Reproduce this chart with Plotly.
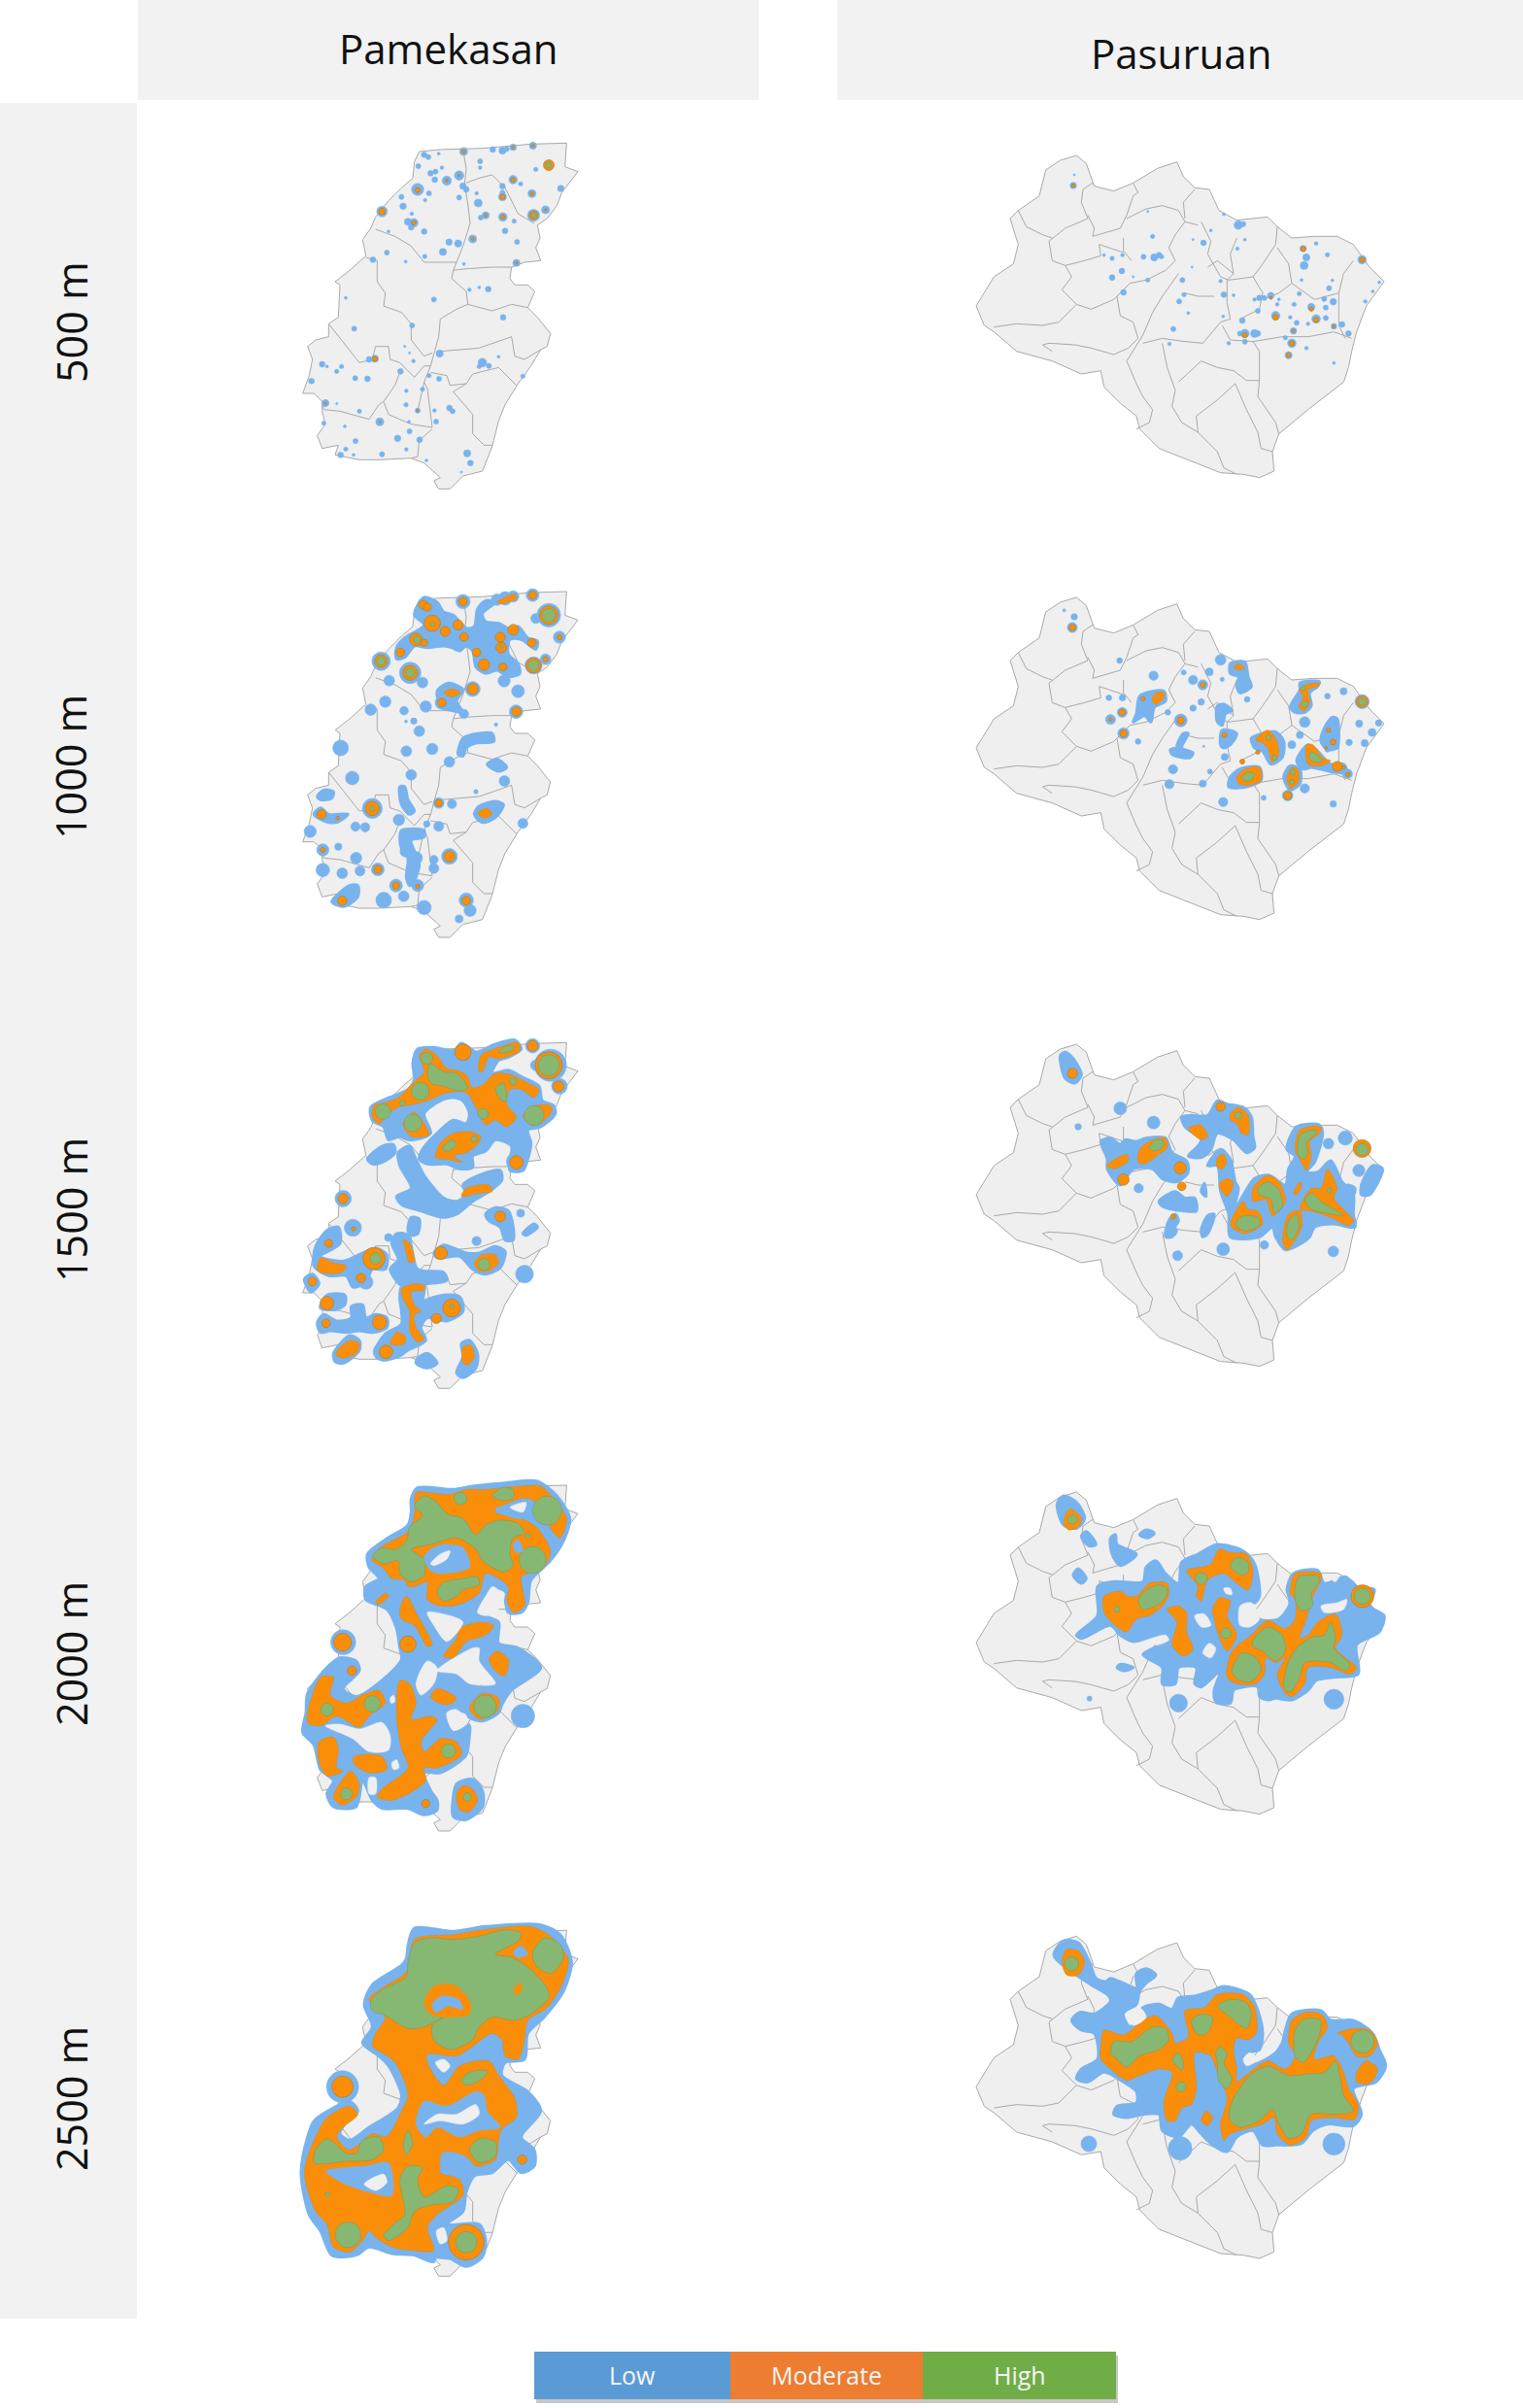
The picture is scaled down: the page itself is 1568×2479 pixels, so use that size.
import plotly.graph_objects as go

W, H = 1568, 2479
DISTRICTS = ["Pamekasan", "Pasuruan"]
BUFFERS = ["500 m", "1000 m", "1500 m", "2000 m", "2500 m"]
LEGEND_LABELS = ["Low", "Moderate", "High"]
LEGEND_COLORS = ["#5B9BD5", "#ED7D31", "#70AD47"]
C_LOW, C_MOD, C_HIGH, C_LAND, C_EDGE = "#78B3EE", "#FB8E08", "#86B873", "#EFEFEF", "#A9A9A9"

PAM_OUT = [(455,78),(520,72),(585,70),(650,68),(720,62),(800,55),(910,52),(908,100),(905,125),(945,140),(925,165),(895,205),(880,245),(850,285),(820,305),(828,345),(815,375),(830,415),(780,420),(740,435),(735,470),(750,490),(790,490),(812,510),(790,560),(820,590),(860,640),(850,680),(830,690),(800,740),(760,795),(720,860),(700,910),(680,990),(650,1065),(590,1080),(550,1120),(515,1120),(500,1095),(520,1085),(470,1040),(430,1025),(330,1030),(270,1030),(195,1015),(205,985),(155,995),(140,955),(165,920),(155,880),(155,850),(130,825),(95,825),(115,770),(125,720),(110,680),(135,660),(175,650),(175,610),(205,590),(210,490),(195,480),(240,445),(290,400),(280,350),(305,315),(320,280),(360,230),(400,190),(435,160),(440,110)]
PAM_LINES = [
 [(590,72),(600,130),(595,180),(605,240),(612,300),(590,370),(570,420),(560,445),(600,440),(680,435),(740,435)],
 [(320,318),(380,340),(430,370),(470,420),(520,420),(570,420)],
 [(290,405),(325,415),(325,480),(350,515),(345,555),(400,575),(430,610),(430,660),(470,710),(495,700)],
 [(560,445),(555,470),(600,510),(605,550),(570,565),(520,595),(515,650),(490,740),(470,790),(450,880)],
 [(605,550),(680,570),(740,550),(790,560)],
 [(520,695),(580,690),(640,685),(740,650),(750,710),(780,720),(830,690)],
 [(175,610),(230,680),(270,730),(310,720),(320,680),(360,680),(365,720),(395,730),(440,775),(470,740),(490,740)],
 [(490,760),(540,770),(550,800),(600,795),(620,765),(700,745),(755,800)],
 [(600,795),(560,820),(620,890),(620,950),(655,985),(680,985)],
 [(395,760),(380,800),(345,850),(360,890),(430,920),(495,930),(480,810),(470,790)],
 [(155,850),(160,875),(210,880),(300,905),(330,860),(345,850)],
 [(495,935),(455,970),(450,1020),(430,1025)],
 [(680,150),(640,160),(600,175)],[(680,150),(720,190),(745,240),(760,270),(810,300)],
]
PAS_OUT = [(75,510),(130,420),(190,380),(205,320),(180,240),(205,215),(270,170),(290,90),(335,60),(385,45),(415,70),(430,110),(440,140),(500,155),(560,130),(635,85),(695,65),(715,110),(750,145),(795,150),(825,215),(880,245),(975,235),(1005,265),(1050,300),(1120,295),(1190,295),(1240,320),(1290,390),(1335,435),(1310,470),(1280,510),(1250,590),(1235,650),(1225,700),(1210,745),(1100,830),(1010,905),(990,960),(995,1020),(950,1040),(900,1030),(830,1025),(740,990),(640,950),(580,890),(570,850),(520,810),(470,760),(460,710),(400,720),(310,680),(200,650),(130,590),(100,570)]
PAS_LINES = [
 [(130,575),(200,565),(280,570),(330,560),(385,505)],
 [(385,505),(340,460),(370,420),(350,385),(310,370),(300,310),(350,270),(385,255),(420,240)],
 [(205,215),(230,265),(280,290),(310,300)],
 [(420,240),(400,190),(405,150),(435,130)],
 [(420,230),(440,270),(435,295),(470,285),(520,270),(540,230),(560,170),(575,160),(560,130)],
 [(530,300),(530,340),(555,370)],[(530,345),(455,320),(460,355),(410,370),(350,385)],
 [(540,240),(600,210),(650,200),(700,215),(720,250),(760,260)],[(720,240),(715,190),(750,150)],
 [(720,250),(690,290),(670,330),(690,370),(660,400),(600,430),(550,440),(500,490),(430,520),(385,505)],
 [(550,440),(510,480),(520,540),(560,560),(575,610),(545,640),(500,660),(430,640),(380,630),(300,625),(280,630),(310,650)],
 [(700,410),(650,480),(620,530),(590,600),(540,680),(570,750),(590,790),(620,830),(610,870),(570,890)],
 [(590,625),(650,610),(720,620),(775,625),(830,560),(860,550),(850,500),(850,430),(870,410),(820,370),(790,390)],
 [(650,625),(665,700),(690,770),(680,820),(710,870),(760,900),(820,960),(840,1010),(880,1030)],
 [(700,745),(770,680),(820,700),(870,710),(910,740),(950,740),(950,650),(930,620),(860,615),(835,570)],
 [(950,740),(945,790),(1000,870),(1010,905)],
 [(755,850),(820,800),(875,750),(910,830),(945,900),(955,950),(990,960)],
 [(760,900),(755,850)],
 [(930,620),(1020,605),(1100,605),(1180,590),(1235,610)],
 [(810,480),(760,480),(720,470)],
 [(855,430),(930,420),(960,380),(1000,320),(1005,265)],[(930,420),(960,470),(950,520),(890,550)],
 [(1005,330),(1040,380),(1050,440),(1120,490),(1195,470),(1210,410),(1240,370)],[(1050,440),(1010,470),(960,490)],
 [(1195,470),(1195,570),(1215,610)],
 [(770,250),(800,310),(790,350),(830,420),(855,430)],[(880,300),(860,350),(870,410)],
]

# ---------- Pamekasan 500 m
PAM500_LOW_DOTS = [(470,88,16),(483,95,14),(515,85,8),(592,78,22),(643,108,14),(643,128,10),(682,72,16),(712,75,20),(725,70,14),(745,65,18),(806,60,20),(452,123,14),(525,128,10),(490,145,16),(505,140,14),(503,165,16),(540,168,26),(578,152,26),(590,185,18),(600,195,16),(712,185,16),(712,205,14),(815,133,12),(892,192,18),(768,178,12),(745,165,24),(450,195,34),(485,207,14),(400,218,14),(473,228,10),(578,220,14),(632,207,10),(637,237,22),(712,218,22),(803,208,22),(405,247,18),(432,270,10),(645,282,14),(660,275,20),(713,280,24),(748,293,12),(808,275,34),(845,258,22),(340,263,30),(420,295,20),(438,298,24),(430,312,16),(470,325,16),(720,323,16),(360,325,8),(547,358,18),(575,362,20),(620,348,22),(757,357,14),(355,390,14),(528,388,20),(472,402,12),(413,418,8),(312,412,16),(593,425,8),(755,422,20),(610,505,10),(640,498,8),(668,503,16),(500,535,14),(228,530,8),(714,590,16),(433,615,14),(254,625,14),(410,680,6),(425,700,6),(518,702,20),(300,720,16),(318,718,20),(437,725,10),(650,730,24),(670,740,14),(640,742,12),(700,712,8),(155,735,16),(170,742,8),(215,742,12),(200,757,12),(397,757,16),(122,787,16),(257,778,14),(295,780,16),(485,770,12),(516,780,14),(775,772,12),(415,817,10),(465,812,12),(165,855,20),(200,857,6),(414,860,12),(270,880,12),(450,878,14),(502,878,10),(548,870,16),(558,880,14),(333,913,22),(160,917,12),(507,912,14),(225,927,8),(423,913,8),(425,942,14),(388,964,18),(456,968,16),(258,972,14),(228,997,12),(415,998,10),(212,1015,16),(252,1015,8),(340,1013,14),(603,1010,20),(613,1040,16),(477,1032,8),(585,1068,6)]
PAM500_MOD_DOTS = [(592,78,10),(745,65,8),(806,60,8),(745,165,12),(712,218,14),(803,208,10),(713,280,12),(450,197,14),(340,263,18),(438,298,12),(318,718,14),(660,275,8),(620,348,8),(855,120,30),(808,275,24),(540,168,8),(578,152,6),(755,422,6),(845,258,6),(165,855,6),(333,913,6),(450,878,6)]
PAM500_HIGH_DOTS = [(855,120,16),(808,275,14)]

# ---------- Pamekasan 1000 m
PAM1000_LOW = [
 [(445,110),(470,75),(510,90),(530,120),(560,130),(600,170),(625,165),(635,110),(660,85),(690,90),(650,125),(660,150),(700,155),(730,170),(760,165),(790,200),(820,210),(815,235),(770,205),(735,205),(730,250),(760,280),(765,310),(730,320),(695,300),(660,310),(630,290),(620,240),(600,225),(580,240),(555,230),(530,225),(480,230),(440,225),(410,260),(385,265),(385,230),(410,200),(445,180),(470,160),(440,130)],
 [(575,560),(590,510),(640,495),(680,495),(685,520),(630,525),(600,540),(590,565)],
 [(130,745),(150,725),(175,745),(235,745),(200,770),(160,765)],
 [(140,690),(160,670),(190,675),(185,695),(150,700)],
 [(395,660),(410,660),(420,700),(440,735),(425,745),(400,715)],
 [(665,590),(695,575),(725,600),(700,612)],
 [(625,745),(640,720),(690,705),(715,715),(690,755),(650,770)],
 [(510,365),(545,340),(590,360),(570,395),(590,430),(560,425),(525,415)],
 [(395,820),(400,795),(470,795),(470,815),(430,825),(445,870),(455,900),(440,950),(425,965),(415,940),(420,880),(400,850)],
 [(185,1015),(240,965),(265,965),(265,1000),(220,1030)],
]
PAM1000_LOW_DOTS = [(590,88,40),(720,78,38),(745,72,32),(695,82,32),(805,68,36),(855,130,66),(815,140,28),(888,198,34),(337,272,52),(397,248,34),(427,308,60),(465,338,30),(362,332,30),(350,397,32),(305,422,32),(475,412,32),(408,425,24),(438,457,18),(455,488,30),(414,458,8),(692,468,10),(212,540,44),(415,550,30),(495,543,32),(548,583,30),(248,633,38),(430,623,30),(718,642,30),(630,675,12),(392,762,32),(515,710,30),(556,713,26),(478,775,18),(515,782,28),(775,773,28),(258,783,26),(288,785,26),(118,798,34),(260,880,32),(157,917,38),(217,927,30),(272,920,28),(327,915,36),(383,965,36),(407,998,30),(450,965,34),(548,875,44),(600,1010,40),(612,1042,34),(470,1033,40),(578,1068,22),(345,1010,44),(412,860,30),(205,845,20),(157,855,34),(754,428,38),(808,285,48),(845,266,30),(717,333,34),(760,365,36),(745,293,36),(712,290,34),(655,285,42),(620,358,42),(525,400,38),(593,435,26),(500,885,24),(500,912,28),(445,880,36),(310,727,56)]
PAM1000_MOD = [[(530,368),(560,358),(582,370),(555,382)],[(695,90),(750,65),(755,78),(705,95)],[(635,740),(665,727),(680,745),(655,757)]]
PAM1000_MOD_DOTS = [(468,98,26),(480,105,22),(590,88,24),(495,155,46),(535,180,28),(575,160,28),(593,197,24),(445,205,36),(470,215,20),(397,245,24),(337,272,36),(427,308,42),(632,245,24),(655,283,32),(705,198,28),(708,230,30),(745,175,30),(803,215,24),(713,290,22),(805,68,22),(855,130,52),(888,198,14),(808,285,42),(845,266,14),(620,358,30),(525,400,24),(755,428,26),(515,710,20),(157,855,14),(153,745,26),(217,1012,26),(327,915,22),(383,965,20),(450,968,12),(548,875,30),(600,1012,24),(203,757,10),(310,727,40)]
PAM1000_HIGH_DOTS = [(495,158,12),(448,205,20),(337,272,24),(427,308,26),(855,130,38),(808,285,30),(708,225,10),(310,727,14)]

# ---------- Pamekasan 1500 m
PAM1500_LOW = [
 [(435,135),(450,90),(500,85),(560,95),(585,72),(615,90),(630,100),(690,75),(750,62),(770,90),(730,115),(700,125),(680,165),(730,155),(770,175),(825,205),(835,250),(870,265),(875,290),(830,330),(790,340),(800,380),(790,430),(775,465),(735,465),(735,430),(740,390),(690,370),(660,405),(620,420),(620,455),(580,460),(540,445),(480,445),(455,430),(465,400),(510,350),(560,310),(600,320),(610,290),(590,250),(560,240),(530,245),(470,290),(490,350),(440,370),(420,370),(395,360),(360,370),(345,330),(310,310),(305,270),(350,245),(420,215),(440,185)],
 [(395,450),(390,410),(425,390),(440,420),(470,480),(530,550),(570,560),(600,540),(590,510),(640,480),(705,465),(710,495),(670,530),(620,560),(570,600),(530,610),(460,590),(400,570),(385,545),(430,520)],
 [(295,430),(340,390),(375,385),(380,410),(340,440),(310,445)],
 [(420,650),(430,610),(455,615),(450,660),(430,665)],
 [(660,600),(690,580),(730,590),(745,640),(745,680),(720,680),(705,640),(670,620)],
 [(775,660),(810,630),(820,640),(785,665)],
 [(500,720),(530,695),(600,720),(640,720),(690,700),(720,715),(705,765),(660,785),(620,770),(580,730),(510,735)],
 [(370,690),(385,660),(420,665),(450,770),(530,780),(540,805),(470,815),(420,815),(400,820),(365,770),(390,740)],
 [(395,860),(400,825),(470,815),(470,840),(460,900),(470,870),(530,850),(580,855),(590,900),(540,930),(480,920),(460,950),(475,990),(420,1020),(390,1040),(340,1050),(320,1020),(350,970),(400,940),(400,900)],
 [(135,700),(170,650),(205,640),(210,690),(150,730),(220,745),(290,715),(320,705),(355,725),(350,770),(310,770),(290,810),(250,825),(230,790),(175,790),(130,760)],
 [(100,800),(125,785),(145,815),(120,840)],
 [(150,880),(170,850),(225,850),(225,880),(195,895),(150,890)],
 [(140,935),(160,910),(200,930),(245,920),(245,885),(280,880),(290,920),(320,910),(355,920),(355,950),(310,965),(270,960),(230,965),(180,960),(150,965)],
 [(190,1030),(240,975),(270,990),(270,1020),(220,1060),(195,1055)],
 [(450,1045),(480,1030),(510,1060),(480,1075),(445,1060)],
 [(570,1090),(590,1040),(585,1000),(610,990),(635,1030),(630,1075),(590,1105)],
]
PAM1500_LOW_DOTS = [(805,80,40),(860,140,90),(815,140,30),(888,205,44),(755,438,56),(220,552,46),(250,642,48),(780,785,50),(768,597,22),(632,683,26),(360,672,22),(340,1025,50),(290,810,40)]
PAM1500_MOD = [
 [(455,110),(475,90),(510,110),(540,150),(570,155),(600,170),(620,210),(650,200),(690,165),(740,170),(790,195),(825,215),(810,240),(770,215),(735,215),(725,260),(755,300),(725,330),(690,310),(660,325),(630,270),(600,225),(540,225),(480,250),(440,260),(415,265),(390,270),(365,285),(330,320),(310,300),(315,265),(350,255),(390,240),(440,190),(470,160)],
 [(640,160),(645,110),(700,85),(760,70),(765,95),(700,120),(670,115),(650,160)],
 [(405,320),(440,285),(470,320),(485,355),(430,360)],
 [(505,425),(520,380),(560,350),(610,345),(645,360),(635,385),(600,410),(560,420),(590,440),(540,430)],
 [(775,295),(810,265),(860,265),(865,280),(830,320),(800,325)],
 [(410,700),(405,680),(425,690),(440,745),(425,750)],
 [(400,830),(440,815),(470,820),(470,835),(430,840),(440,880),(460,900),(440,910),(445,950),(470,985),(450,995),(425,960),(425,900),(405,860)],
 [(365,1000),(385,965),(410,975),(410,1000),(380,1005)],
 [(140,770),(150,735),(190,750),(230,760),(215,780),(150,780)],
 [(590,1060),(590,1010),(615,1005),(625,1040),(605,1065)],
 [(625,750),(650,725),(690,725),(700,750),(670,775),(640,775)],
 [(585,545),(600,520),(670,510),(680,530),(640,535)],
 [(197,1030),(240,990),(270,1000),(260,1030),(215,1045)],
]
PAM1500_MOD_DOTS = [(590,100,46),(805,80,30),(855,140,76),(885,205,30),(755,440,38),(220,552,28),(252,645,12),(175,690,22),(315,737,62),(275,797,26),(125,808,24),(170,875,38),(167,937,24),(332,934,40),(508,922,28),(555,890,50),(352,1025,38),(705,607,30),(522,720,36)]
PAM1500_HIGH = [
 [(480,165),(490,135),(530,160),(570,165),(605,210),(580,220),(530,205),(490,195)],
 [(690,210),(715,195),(725,250),(710,250)],
 [(525,400),(555,370),(570,385),(545,405)],
 [(700,100),(725,80),(750,85),(730,100)],
]
PAM1500_HIGH_DOTS = [(478,118,34),(458,220,50),(343,283,44),(435,318,50),(403,257,16),(855,140,60),(810,295,56),(652,290,30),(555,885,12),(320,737,32),(655,755,34),(625,368,18),(745,190,20)]

# ---------- Pamekasan 2000 m
PAM2000_LOW = [
 [(430,130),(450,95),(560,100),(620,90),(720,80),(820,75),(880,120),(920,190),(900,260),(860,320),(800,380),(790,450),(770,480),(730,480),(715,420),(680,395),(640,480),(700,510),(700,575),(760,590),(830,650),(740,720),(710,765),(700,790),(650,815),(610,805),(600,790),(550,780),(610,830),(610,860),(600,920),(580,940),(520,975),(470,975),(490,1030),(510,1060),(510,1090),(470,1105),(420,1085),(340,1085),(310,1060),(280,1000),(260,1080),(190,1080),(170,1040),(190,1000),(150,965),(130,890),(95,850),(105,790),(110,730),(170,650),(210,620),(260,630),(270,660),(220,715),(260,740),(340,690),(400,625),(395,590),(385,530),(355,470),(290,440),(290,400),(330,375),(300,340),(295,300),(350,255),(420,210),(430,170)],
 [(560,1050),(570,1010),(620,995),(650,1030),(650,1080),(600,1120),(560,1110)],
]
PAM2000_LOW_DOTS = [(220,572,70),(775,800,66)]
PAM2000_MOD = [
 [(315,300),(340,275),(420,230),(440,180),(445,110),(490,110),(550,115),(600,100),(660,100),(760,90),(830,90),(880,140),(910,190),(890,250),(860,220),(840,170),(800,130),(760,130),(690,170),(770,190),(820,220),(860,290),(840,340),(790,360),(770,370),(780,460),(745,480),(725,440),(730,400),(660,360),(640,420),(580,455),(520,460),(480,440),(480,400),(480,385),(440,400),(420,400),(410,380),(370,375),(340,340),(310,320)],
 [(320,450),(350,420),(360,430),(330,455)],
 [(395,470),(415,430),(450,490),(495,580),(480,585),(440,520),(400,500)],
 [(530,615),(570,560),(580,530),(640,510),(685,520),(660,550),(600,570),(560,620)],
 [(670,625),(695,600),(730,625),(720,675),(700,670)],
 [(490,740),(510,715),(570,745),(545,765),(505,755)],
 [(610,775),(650,730),(700,745),(695,785),(640,810)],
 [(110,820),(150,680),(190,680),(180,735),(230,760),(280,735),(330,720),(350,760),(300,800),(270,835),(200,800),(150,830)],
 [(145,880),(190,865),(205,900),(200,960),(220,970),(170,985),(145,940)],
 [(250,930),(270,920),(340,925),(355,965),(300,975),(255,950)],
 [(340,1025),(420,960),(400,900),(385,800),(395,690),(425,700),(445,760),(430,810),(490,800),(510,810),(460,880),(470,910),(520,870),(570,880),(585,920),(510,960),(470,960),(475,1000),(430,1035),(370,1060),(325,1050)],
 [(190,1050),(215,1000),(245,970),(270,1010),(260,1050),(215,1075)],
 [(570,1040),(590,1015),(620,1025),(635,1060),(610,1095),(580,1090)],
]
PAM2000_MOD_DOTS = [(420,578,46),(218,572,50),(247,660,26),(475,1070,22)]
PAM2000_HIGH = [
 [(310,305),(340,280),(380,285),(415,260),(425,215),(465,180),(440,150),(470,120),(510,140),(540,175),(590,190),(630,240),(660,210),(700,195),(760,205),(780,235),(745,250),(735,300),(745,335),(715,355),(650,320),(630,285),(570,250),(490,270),(430,285),(470,315),(470,365),(430,385),(395,360),(390,320),(345,330)],
 [(510,420),(525,390),(590,375),(635,370),(640,395),(590,410),(570,430),(530,445)],
 [(680,120),(710,95),(745,100),(745,125),(715,135)],
]
PAM2000_HIGH_DOTS = [(582,128,36),(850,165,82),(805,318,76),(790,243,14),(310,762,46),(658,770,64),(170,780,36),(230,1040,34),(603,1050,24),(545,908,40)]
PAM2000_HOLE = [[(470,310),(490,285),(530,270),(590,280),(610,340),(520,360),(490,350)],[(690,160),(770,140),(790,150),(770,190),(700,170)],[(745,270),(760,255),(775,290),(755,295)]]
PAM2000_GAP = [[(490,330),(520,300),(550,290),(540,315),(500,335)],[(480,480),(550,490),(590,510),(540,570),(500,520)],[(635,480),(680,410),(718,420),(700,470),(660,490)],[(510,660),(620,590),(640,590),(640,630),(690,700),(610,700),(570,670)],[(445,700),(480,630),(510,650),(500,700),(460,735)],[(165,830),(210,825),(270,840),(340,820),(365,860),(360,905),(300,910),(250,870)],[(540,790),(570,780),(605,820),(560,845)],[(365,745),(375,735),(380,755),(368,760)],[(370,945),(385,935),(392,960),(375,965)],[(300,990),(320,990),(320,1040),(300,1040)],[(735,155),(785,140),(775,170)]]

# ---------- Pamekasan 2500 m
PAM2500_LOW = [
 [(420,130),(440,75),(560,85),(660,70),(830,65),(890,95),(925,180),(900,270),(840,350),(790,400),(780,480),(720,490),(710,530),(790,580),(830,640),(770,720),(810,760),(810,810),(770,830),(730,790),(680,830),(625,840),(600,890),(590,950),(540,990),(640,990),(660,1040),(650,1090),(600,1120),(550,1095),(510,1090),(510,1060),(500,1105),(440,1085),(370,1080),(300,1060),(260,1085),(185,1085),(150,1010),(115,960),(90,830),(110,720),(130,670),(190,630),(240,610),(265,640),(225,680),(210,710),(240,730),(300,690),(350,660),(390,630),(400,590),(360,500),(330,470),(280,430),(310,380),(285,310),(310,250),(400,190),(415,170)],
]
PAM2500_LOW_DOTS = [(218,565,90)]
PAM2500_MOD = [
 [(300,295),(340,260),(415,210),(440,110),(560,95),(650,80),(800,70),(860,100),(915,170),(900,240),(850,320),(790,360),(780,420),(760,480),(720,470),(710,420),(680,400),(620,440),(570,470),(480,465),(480,490),(530,560),(580,500),(670,485),(700,530),(750,600),(755,660),(710,695),(700,730),(690,790),(630,810),(610,790),(570,770),(530,780),(520,830),(580,850),(590,900),(510,960),(480,1000),(500,1070),(430,1070),(370,1060),(320,1030),(300,1010),(280,1040),(240,1075),(190,1060),(170,990),(135,950),(100,830),(130,730),(170,660),(240,625),(265,650),(220,690),(200,720),(240,760),(310,710),(350,720),(370,700),(400,640),(420,590),(380,490),(340,460),(310,440),(320,400),(350,350)],
]
PAM2500_MOD_DOTS = [(218,565,60),(773,790,26),(600,1045,100)]
PAM2500_HIGH = [
 [(305,300),(340,265),(415,225),(420,180),(440,120),(490,105),(560,110),(640,100),(720,80),(770,90),(760,115),(690,155),(740,165),(790,195),(850,260),(855,290),(800,340),(750,360),(680,350),(640,380),(620,420),(550,450),(500,420),(495,375),(530,350),(470,380),(420,385),(350,345),(310,330)],
 [(805,150),(840,105),(890,125),(900,170),(860,215),(815,190)],
 [(585,545),(610,520),(665,515),(650,540),(600,560)],
 [(130,800),(135,760),(170,725),(230,770),(260,770),(280,730),(330,720),(345,760),(310,790),(230,795)],
 [(405,745),(420,700),(435,740),(415,775)],
 [(610,760),(640,725),(690,735),(690,780),(640,800)],
 [(345,1025),(380,985),(410,960),(395,850),(420,810),(465,815),(450,850),(470,905),(540,870),(575,880),(560,920),(490,930),(440,950),(420,1000),(360,1040)],
]
PAM2500_HIGH_DOTS = [(235,1022,72),(600,1045,60),(172,897,14)]
PAM2500_INNER = [[(470,305),(500,255),(560,250),(610,300),(610,340),(540,350),(490,340)],[(745,270),(765,245),(775,260),(755,280)]]
PAM2500_HOLE = [[(495,310),(525,285),(575,295),(590,325),(545,315),(505,335)],[(745,150),(770,130),(790,155),(760,165)],[(445,680),(470,610),(540,625),(630,580),(655,590),(665,640),(705,690),(640,700),(580,720),(510,690),(475,720)],[(165,825),(220,815),(290,810),(360,800),(370,900),(300,890),(215,860)],[(525,770),(570,770),(610,790),(625,830),(600,870),(580,850),(525,820)]]
PAM2500_GAP = [[(505,490),(530,480),(550,500),(530,520)],[(470,680),(510,650),(570,650),(630,620),(640,650),(590,680),(520,670)],[(285,865),(345,835),(355,860),(320,885)],[(508,1010),(530,1000),(540,1040),(520,1050)]]

# ---------- Pasuruan 500 m
PAS500_LOW_DOTS = [(375,183,18),(378,150,6),(620,340,12),(470,398,8),(495,408,12),(527,398,10),(592,403,14),(625,405,20),(640,398,16),(648,403,12),(605,263,6),(525,447,16),(495,467,16),(560,465,6),(605,475,12),(530,513,16),(712,475,14),(717,520,12),(702,541,14),(730,577,8),(684,626,14),(742,435,6),(777,360,16),(800,322,8),(745,350,6),(830,478,10),(840,520,16),(870,522,8),(905,350,8),(885,305,24),(900,302,14),(882,378,10),(840,272,8),(1085,378,18),(1095,405,20),(1088,430,22),(1125,362,10),(1160,397,12),(1267,412,24),(1320,482,8),(1300,510,8),(1277,541,10),(1175,476,8),(1165,500,14),(1150,533,14),(1155,560,14),(1178,542,18),(1073,517,12),(1057,550,12),(1080,475,8),(1110,558,20),(1125,595,24),(1065,607,14),(1100,610,10),(1155,592,14),(1180,618,16),(1205,612,16),(1225,640,16),(1055,632,18),(1050,670,24),(1040,707,20),(1095,685,10),(1180,731,8),(1030,653,12),(1045,590,10),(1000,585,24),(1005,550,10),(985,523,18),(950,530,16),(935,535,10),(965,530,14),(1010,535,8),(945,570,14),(897,600,16),(905,640,24),(935,640,22),(890,640,14),(905,665,14),(945,640,16),(855,670,10),(672,672,10),(838,587,8)]
PAS500_MOD_DOTS = [(1085,378,14),(1000,590,16),(1125,598,14),(1110,565,12),(905,645,14),(1050,670,14),(1040,707,12),(1180,618,8),(985,530,8),(375,183,10),(1267,412,14),(1055,632,8)]

# ---------- Pasuruan 1000 m
PAS1000_LOW = [
 [(570,405),(580,350),(620,335),(655,335),(660,365),(625,385),(615,430),(595,410),(560,430)],
 [(695,505),(715,465),(730,465),(710,510),(745,525),(735,540),(680,530),(675,515),(700,510)],
 [(820,430),(820,380),(840,375),(865,395),(845,405),(835,440)],
 [(860,250),(905,245),(915,290),(925,320),(890,340),(880,320),(885,290),(860,280)],
 [(830,500),(835,455),(880,465),(860,500),(840,510)],
 [(925,480),(960,465),(1000,460),(1025,490),(1020,540),(985,560),(960,520),(935,510)],
 [(855,630),(860,600),(890,575),(950,570),(955,610),(910,630)],
 [(1065,550),(1100,500),(1130,520),(1170,560),(1210,560),(1220,585),(1180,585),(1110,570),(1085,575)],
 [(1025,600),(1045,565),(1075,575),(1075,620),(1045,640)],
 [(1045,385),(1075,330),(1075,310),(1135,305),(1130,320),(1105,340),(1110,380),(1090,400),(1060,400)],
 [(1140,490),(1150,450),(1175,415),(1190,420),(1195,470),(1190,510),(1160,515)],
]
PAS1000_LOW_DOTS = [(372,138,28),(378,105,18),(347,85,8),(518,240,16),(623,287,26),(716,277,14),(830,238,30),(795,275,22),(745,300,26),(775,315,28),(835,298,12),(912,360,16),(1160,350,16),(1210,335,20),(1267,367,40),(1318,433,18),(1298,462,22),(1258,435,20),(1275,495,20),(1227,493,18),(1090,430,30),(1075,470,20),(1050,500,22),(1165,450,28),(1175,430,20),(1180,490,28),(1160,515,14),(1223,590,26),(1090,635,26),(1037,657,30),(1178,683,18),(963,664,14),(838,677,26),(775,620,20),(797,583,14),(672,622,26),(683,576,26),(843,538,20),(745,387,18),(770,368,18),(667,400,16),(707,425,36),(575,490,16),(530,465,32),(526,400,28),(527,355,18),(490,422,28),(485,355,16),(778,505,6)]
PAS1000_MOD = [
 [(938,485),(975,455),(1000,480),(1010,530),(990,555),(975,510),(960,495)],
 [(880,600),(905,575),(950,570),(955,610),(920,625),(885,620)],
 [(1095,500),(1115,500),(1145,540),(1170,550),(1140,565),(1100,560)],
 [(1035,600),(1050,570),(1068,575),(1070,615),(1045,635)],
 [(1072,330),(1095,315),(1135,310),(1130,320),(1100,330),(1105,370),(1090,395),(1072,385),(1085,350)],
 [(870,262),(885,250),(905,265),(885,268)],
 [(618,365),(630,340),(655,340),(655,355),(630,375)],
]
PAS1000_MOD_DOTS = [(590,358,12),(775,315,14),(372,138,18),(526,400,18),(530,465,20),(490,422,10),(707,425,20),(842,470,14),(897,552,14),(945,523,12),(1163,455,12),(1177,492,16),(1155,510,8),(1223,592,12),(1037,657,22),(1190,567,28),(1210,570,10),(1267,367,32)]
PAS1000_HIGH = [[(895,600),(915,585),(935,590),(925,610),(905,612)],[(1105,525),(1120,525),(1145,550),(1125,555),(1105,545)]]
PAS1000_HIGH_DOTS = [(1267,367,20),(1090,375,18),(1085,325,14),(978,478,14),(997,540,14),(1052,585,16),(1050,615,14)]

# ---------- Pasuruan 1500 m
PAS1500_LOW = [
 [(335,80),(350,70),(375,90),(400,140),(380,165),(350,150)],
 [(460,345),(490,335),(520,355),(535,340),(570,345),(600,335),(660,335),(680,380),(725,405),(730,440),(695,470),(650,460),(620,430),(560,430),(520,480),(480,430),(480,400)],
 [(710,270),(740,265),(790,265),(820,220),(850,230),(900,240),(925,270),(930,330),(935,365),(910,380),(870,340),(820,320),(800,370),(770,395),(730,390),(760,360),(770,340),(720,300)],
 [(790,420),(830,370),(860,400),(875,470),(885,490),(870,560),(895,520),(935,460),(980,450),(1030,480),(1040,430),(1060,390),(1035,370),(1065,300),(1135,295),(1145,320),(1120,410),(1095,440),(1130,440),(1170,405),(1205,470),(1240,510),(1240,570),(1245,610),(1180,600),(1120,610),(1105,640),(1080,660),(1030,680),(1000,640),(990,610),(950,640),(860,640),(855,570),(830,500),(820,420)],
 [(1195,490),(1225,480),(1245,490),(1240,510),(1195,510)],
 [(640,530),(690,500),(720,520),(750,520),(755,560),(720,560),(650,545)],
 [(770,620),(790,575),(810,570),(790,630),(775,640)],
 [(660,640),(670,590),(690,570),(700,590),(685,615),(680,640)],
 [(1300,420),(1330,430),(1290,510),(1265,510),(1265,480)],
 [(770,500),(780,475),(785,515)],
]
PAS1500_LOW_DOTS = [(372,135,48),(520,243,36),(623,287,36),(390,300,18),(1215,335,40),(1163,352,30),(1257,435,34),(577,490,26),(838,678,36),(697,698,28),(965,665,24),(1178,685,30),(678,622,34)]
PAS1500_MOD = [
 [(478,420),(540,385),(545,405),(500,430)],
 [(575,410),(580,370),(620,340),(660,335),(665,365),(640,385),(615,405),(590,415)],
 [(730,305),(770,295),(790,330),(770,340)],
 [(860,260),(885,240),(915,265),(915,325),(895,320),(880,290),(860,280)],
 [(820,425),(820,395),(840,385),(848,410),(835,430)],
 [(825,480),(850,460),(870,475),(850,515)],
 [(930,490),(975,450),(1010,470),(1030,530),(990,575),(970,525),(930,530)],
 [(860,600),(900,530),(915,555),(945,560),(960,600),(905,630),(870,615)],
 [(1022,655),(1040,570),(1075,560),(1080,610),(1060,650),(1035,680)],
 [(1075,555),(1110,490),(1140,490),(1160,430),(1190,490),(1180,520),(1240,590),(1225,605),(1170,580),(1110,560)],
 [(1060,370),(1075,310),(1140,300),(1135,320),(1105,345),(1110,390),(1095,435),(1080,410)],
 [(1055,505),(1075,470),(1080,480),(1065,510)],
]
PAS1500_MOD_DOTS = [(372,135,28),(830,238,26),(530,463,32),(705,427,34),(710,484,24),(683,577,14),(1267,367,50)]
PAS1500_HIGH = [
 [(610,365),(630,340),(655,345),(650,365),(625,375)],
 [(945,490),(975,470),(1010,495),(1020,550),(995,565),(985,525),(950,510)],
 [(880,590),(900,575),(945,580),(950,605),(910,622),(880,610)],
 [(1035,640),(1040,590),(1065,570),(1072,610),(1050,650)],
 [(1070,390),(1075,325),(1125,310),(1125,320),(1095,350),(1100,380),(1085,400)],
 [(1090,525),(1110,505),(1140,530),(1190,560),(1210,575),(1175,570),(1110,555)],
]
PAS1500_HIGH_DOTS = [(1267,370,34),(885,265,20),(1165,497,14)]

# ---------- Pasuruan 2000 m
PAS2000_LOW = [
 [(325,85),(345,60),(385,80),(410,130),(385,160),(345,150)],
 [(400,185),(415,170),(445,210),(425,215)],
 [(490,190),(505,180),(510,210),(570,240),(520,275),(495,240)],
 [(580,180),(600,165),(625,175),(605,190)],
 [(375,305),(390,285),(415,315),(400,330)],
 [(510,590),(520,580),(560,590),(530,600)],
 [(385,490),(450,430),(450,340),(500,325),(590,325),(600,280),(630,260),(660,300),(700,330),(710,265),(760,240),(820,210),(900,230),(935,270),(950,370),(935,390),(920,385),(950,440),(1010,440),(1045,390),(1035,350),(1055,300),(1130,290),(1150,330),(1215,310),(1250,340),(1305,350),(1290,400),(1335,430),(1320,480),(1250,520),(1255,610),(1180,620),(1125,630),(1100,660),(1050,690),(1000,685),(975,690),(950,680),(945,650),(900,650),(870,660),(860,700),(815,695),(810,660),(830,600),(770,650),(750,640),(755,590),(700,590),(690,640),(650,640),(650,590),(590,550),(660,510),(640,490),(560,510),(520,490),(490,460),(400,500)],
]
PAS2000_LOW_DOTS = [(1180,688,56),(700,700,50),(425,686,14)]
PAS2000_MOD = [
 [(345,140),(365,100),(400,130),(390,155),(360,165)],
 [(470,370),(520,355),(545,370),(570,370),(610,330),(665,330),(670,365),(650,400),(610,430),(570,440),(540,480),(510,465),(470,420)],
 [(665,410),(700,400),(725,420),(725,480),(745,535),(715,555),(680,520),(695,450)],
 [(725,290),(770,280),(800,270),(825,225),(860,235),(910,240),(930,290),(915,350),(880,330),(840,300),(790,320),(770,385),(755,370),(760,340)],
 [(805,410),(825,375),(860,385),(850,430),(880,490),(850,540),(820,480),(810,440)],
 [(850,620),(865,540),(925,490),(975,445),(1030,470),(1060,440),(1060,380),(1045,360),(1060,300),(1140,300),(1140,320),(1115,370),(1095,440),(1075,500),(1100,490),(1130,450),(1185,425),(1205,490),(1185,530),(1250,590),(1230,610),(1170,590),(1100,590),(1090,640),(1050,680),(1030,670),(1005,610),(1030,560),(1000,575),(970,560),(965,610),(940,640),(880,640)],
]
PAS2000_MOD_DOTS = [(1268,370,64)]
PAS2000_HIGH = [
 [(575,385),(600,350),(640,335),(665,345),(660,375),(630,400),(590,410)],
 [(860,270),(880,250),(915,265),(915,295),(895,305),(865,285)],
 [(930,505),(975,465),(1020,490),(1030,540),(1000,570),(960,540),(930,525)],
 [(865,600),(895,545),(940,560),(955,600),(920,635),(880,625)],
 [(1025,640),(1040,570),(1075,520),(1115,495),(1150,490),(1170,450),(1185,500),(1180,530),(1230,580),(1215,600),(1170,575),(1090,575),(1075,620),(1045,665),(1030,660)],
 [(1060,380),(1070,310),(1135,310),(1130,335),(1110,360),(1115,400),(1080,415)],
]
PAS2000_HIGH_DOTS = [(770,315,34),(1268,370,46),(510,410,16),(372,133,26),(846,484,30)]
PAS2000_GAP = [[(1140,400),(1190,390),(1220,380),(1210,410),(1150,420)],[(1175,320),(1195,310),(1185,325)],[(890,400),(925,390),(950,440),(920,465),(890,460)],[(750,430),(780,425),(800,460),(770,465)],[(775,545),(795,515),(815,530),(800,560)],[(840,345),(860,345),(865,365),(845,360)],[(625,500),(660,490),(670,505),(630,520)]]

# ---------- Pasuruan 2500 m
PAS2500_LOW = [
 [(315,130),(345,85),(390,90),(425,150),(445,200),(475,210),(490,200),(530,215),(570,230),(570,185),(600,170),(630,190),(600,215),(580,240),(570,280),(530,310),(550,350),(590,290),(640,280),(680,295),(700,260),(750,255),(800,240),(840,225),(920,250),(945,300),(960,370),(950,420),(920,430),(905,470),(950,460),(1000,430),(1020,400),(1030,360),(1050,310),(1140,300),(1170,330),(1240,330),(1300,370),(1320,420),(1340,470),(1310,520),(1240,540),(1265,620),(1240,655),(1160,650),(1115,670),(1080,710),(1000,715),(960,715),(930,670),(880,690),(850,735),(800,710),(770,680),(740,650),(700,690),(650,670),(640,620),(590,620),(540,630),(500,620),(510,595),(570,585),(570,550),(530,520),(470,490),(420,520),(385,510),(400,480),(450,450),(440,370),(400,360),(370,330),(395,305),(440,310),(490,270),(480,250),(430,220)],
]
PAS2500_LOW_DOTS = [(423,711,44),(705,725,66),(1180,712,62)]
PAS2500_MOD = [
 [(340,150),(355,110),(390,115),(410,150),(390,190),(355,190)],
 [(460,410),(470,360),(530,375),(590,330),(630,315),(680,370),(690,400),(730,380),(720,300),(780,290),(820,250),(900,250),(935,290),(940,370),(915,390),(880,385),(870,420),(880,480),(880,520),(920,490),(975,455),(1030,480),(1060,440),(1040,400),(1050,330),(1090,305),(1140,310),(1160,350),(1130,400),(1120,450),(1180,440),(1210,490),(1225,540),(1255,590),(1245,635),(1180,630),(1110,640),(1095,690),(1045,715),(1005,680),(995,630),(960,650),(890,670),(860,680),(840,700),(830,650),(850,570),(820,490),(800,440),(775,430),(750,430),(755,540),(740,590),(710,600),(690,640),(665,640),(655,580),(680,490),(640,480),(580,500),(540,515),(490,480),(460,450)],
 [(1190,370),(1240,355),(1290,360),(1315,400),(1290,440),(1250,440),(1225,400),(1205,375)],
 [(1250,490),(1280,455),(1315,480),(1290,525),(1250,520)],
 [(770,640),(785,610),(805,630),(790,655)],
]
PAS2500_HIGH = [
 [(490,430),(500,395),(555,395),(620,350),(660,355),(670,390),(640,420),(580,440),(540,475),(510,450)],
 [(740,330),(770,310),(805,320),(800,350),(780,375),(755,370)],
 [(820,285),(860,265),(910,275),(925,310),(910,355),(860,320)],
 [(680,450),(700,430),(715,460),(710,485),(695,470)],
 [(815,430),(830,410),(850,435),(840,460),(865,510),(850,540),(825,520),(820,460)],
 [(1060,440),(1060,360),(1090,325),(1140,330),(1130,390),(1085,460)],
 [(855,620),(870,570),(920,500),(975,470),(1040,500),(1100,495),(1150,490),(1185,455),(1200,510),(1210,560),(1240,610),(1180,620),(1110,620),(1080,680),(1040,695),(1010,650),(990,605),(950,640),(890,660),(860,640)],
]
PAS2500_HIGH_DOTS = [(708,535,28),(370,155,40),(1268,395,66)]
PAS2500_GAP = [[(535,310),(580,290),(600,320),(560,345)],[(900,450),(920,430),(945,450),(910,470)]]

# column, row, crop top, outline shift, low, low dots, mod, mod dots, high, high dots, inner, hole, gap
PANELS = [
 (0,0,130,0,[],PAM500_LOW_DOTS,[],PAM500_MOD_DOTS,[],PAM500_HIGH_DOTS,[],[],[]),
 (0,1,590,5,PAM1000_LOW,PAM1000_LOW_DOTS,PAM1000_MOD,PAM1000_MOD_DOTS,[],PAM1000_HIGH_DOTS,[],[],[]),
 (0,2,1050,18,PAM1500_LOW,PAM1500_LOW_DOTS,PAM1500_MOD,PAM1500_MOD_DOTS,PAM1500_HIGH,PAM1500_HIGH_DOTS,[],[],[]),
 (0,3,1500,35,PAM2000_LOW,PAM2000_LOW_DOTS,PAM2000_MOD,PAM2000_MOD_DOTS,PAM2000_HIGH,PAM2000_HIGH_DOTS,[],PAM2000_HOLE,PAM2000_GAP),
 (0,4,1960,30,PAM2500_LOW,PAM2500_LOW_DOTS,PAM2500_MOD,PAM2500_MOD_DOTS,PAM2500_HIGH,PAM2500_HIGH_DOTS,PAM2500_INNER,PAM2500_HOLE,PAM2500_GAP),
 (1,0,130,45,[],PAS500_LOW_DOTS,[],PAS500_MOD_DOTS,[],[],[],[],[]),
 (1,1,600,0,PAS1000_LOW,PAS1000_LOW_DOTS,PAS1000_MOD,PAS1000_MOD_DOTS,PAS1000_HIGH,PAS1000_HIGH_DOTS,[],[],[]),
 (1,2,1060,0,PAS1500_LOW,PAS1500_LOW_DOTS,PAS1500_MOD,PAS1500_MOD_DOTS,PAS1500_HIGH,PAS1500_HIGH_DOTS,[],[],[]),
 (1,3,1520,3,PAS2000_LOW,PAS2000_LOW_DOTS,PAS2000_MOD,PAS2000_MOD_DOTS,PAS2000_HIGH,PAS2000_HIGH_DOTS,[],[],PAS2000_GAP),
 (1,4,1970,25,PAS2500_LOW,PAS2500_LOW_DOTS,PAS2500_MOD,[],PAS2500_HIGH,PAS2500_HIGH_DOTS,[],[],PAS2500_GAP),
]
CROP_X = [280, 980]
CROP_W = [340, 470]
CROP_H = [400, 370]
SCALE = 3


def path(polys, shift=0, close=True):
    xs, ys = [], []
    for p in polys:
        pts = list(p) + ([p[0]] if close else [])
        xs += [q[0] for q in pts] + [None]
        ys += [q[1] + shift for q in pts] + [None]
    return xs, ys


fig = go.Figure()


def add_polys(polys, color, edge, ax, width=0.6):
    if not polys:
        return
    x, y = path(polys)
    fig.add_trace(go.Scatter(x=x, y=y, xaxis=ax[0], yaxis=ax[1], mode="lines", fill="toself",
                             fillcolor=color, line=dict(color=edge, width=width, shape="spline", smoothing=0.8),
                             hoverinfo="skip", showlegend=False))


def add_dots(dots, color, edge, ax, width=0.6):
    if not dots:
        return
    fig.add_trace(go.Scatter(x=[d[0] for d in dots], y=[d[1] for d in dots], xaxis=ax[0], yaxis=ax[1], mode="markers",
                             marker=dict(size=[1.1 * d[2] / SCALE for d in dots], color=color, opacity=1,
                                         line=dict(color=edge, width=width)),
                             hoverinfo="skip", showlegend=False))


layout_axes = {}
for i, (col, row, top, shift, low, low_d, mod, mod_d, high, high_d, inner, hole, gap) in enumerate(PANELS):
    n = "" if i == 0 else str(i + 1)
    ax = ("x" + n, "y" + n)
    x0, w, h = CROP_X[col], CROP_W[col], CROP_H[col]
    layout_axes["xaxis" + n] = dict(domain=[x0 / W, (x0 + w) / W], range=[0, w * SCALE], visible=False, fixedrange=True)
    layout_axes["yaxis" + n] = dict(domain=[1 - (top + h) / H, 1 - top / H], range=[h * SCALE, 0], visible=False, fixedrange=True)
    outline = PAM_OUT if col == 0 else PAS_OUT
    lines = PAM_LINES if col == 0 else PAS_LINES
    x, y = path([outline], shift)
    fig.add_trace(go.Scatter(x=x, y=y, xaxis=ax[0], yaxis=ax[1], mode="lines", fill="toself", fillcolor=C_LAND,
                             line=dict(color=C_EDGE, width=1), hoverinfo="skip", showlegend=False))
    x, y = path(lines, shift, close=False)
    fig.add_trace(go.Scatter(x=x, y=y, xaxis=ax[0], yaxis=ax[1], mode="lines",
                             line=dict(color=C_EDGE, width=1), hoverinfo="skip", showlegend=False))
    add_polys(low, C_LOW, C_LOW, ax, width=3)
    add_dots(low_d, C_LOW, C_LOW, ax)
    add_polys(mod, C_MOD, "#D08A20", ax, width=0.5)
    add_dots(mod_d, C_MOD, "#A07C30", ax)
    add_polys(high, C_HIGH, "#8A8F50", ax, width=0.5)
    add_dots(high_d, C_HIGH, "#8A8F50", ax, width=0.5)
    add_polys(inner, C_MOD, C_MOD, ax)
    add_polys(hole, C_LOW, C_LOW, ax)
    add_polys(gap, C_LAND, C_LAND, ax)

shapes = [
    dict(type="rect", xref="paper", yref="paper", x0=142/W, x1=781/W, y0=1-103/H, y1=1, fillcolor="#F2F2F2", line_width=0, layer="below"),
    dict(type="rect", xref="paper", yref="paper", x0=862/W, x1=1, y0=1-103/H, y1=1, fillcolor="#F2F2F2", line_width=0, layer="below"),
    dict(type="rect", xref="paper", yref="paper", x0=0, x1=141/W, y0=1-2387/H, y1=1-106/H, fillcolor="#F2F2F2", line_width=0, layer="below"),
    dict(type="rect", xref="paper", yref="paper", x0=552/W, x1=1151/W, y0=1-2474/H, y1=1-2425/H, fillcolor="#C8C8C8", line_width=0, layer="below"),
]
LEG_X = [550, 752, 950, 1149]
for i, c in enumerate(LEGEND_COLORS):
    shapes.append(dict(type="rect", xref="paper", yref="paper", x0=LEG_X[i]/W, x1=LEG_X[i+1]/W, y0=1-2470/H, y1=1-2421/H, fillcolor=c, line_width=0))

ann = []
for name, cx, cy in zip(DISTRICTS, [462, 1216], [50, 54]):
    ann.append(dict(text=name, x=cx/W, y=1-cy/H, xref="paper", yref="paper", showarrow=False,
                    font=dict(family="Open Sans", size=42, color="#111111"), xanchor="center", yanchor="middle"))
for name, cy in zip(BUFFERS, [332, 790, 1246, 1703, 2161]):
    ann.append(dict(text=name, x=73/W, y=1-cy/H, xref="paper", yref="paper", showarrow=False, textangle=-90,
                    font=dict(family="Open Sans", size=43, color="#111111"), xanchor="center", yanchor="middle"))
for name, a, b in zip(LEGEND_LABELS, LEG_X[:-1], LEG_X[1:]):
    ann.append(dict(text=name, x=(a+b)/2/W, y=1-2445/H, xref="paper", yref="paper", showarrow=False,
                    font=dict(family="Open Sans", size=25, color="#F4F4F4"), xanchor="center", yanchor="middle"))

fig.update_layout(width=W, height=H, margin=dict(l=0, r=0, t=0, b=0), paper_bgcolor="white", plot_bgcolor="white",
                  showlegend=False, shapes=shapes, annotations=ann, **layout_axes)
fig.write_html("out.html", config={"displayModeBar": False}, post_script="document.body.style.margin='0';")
